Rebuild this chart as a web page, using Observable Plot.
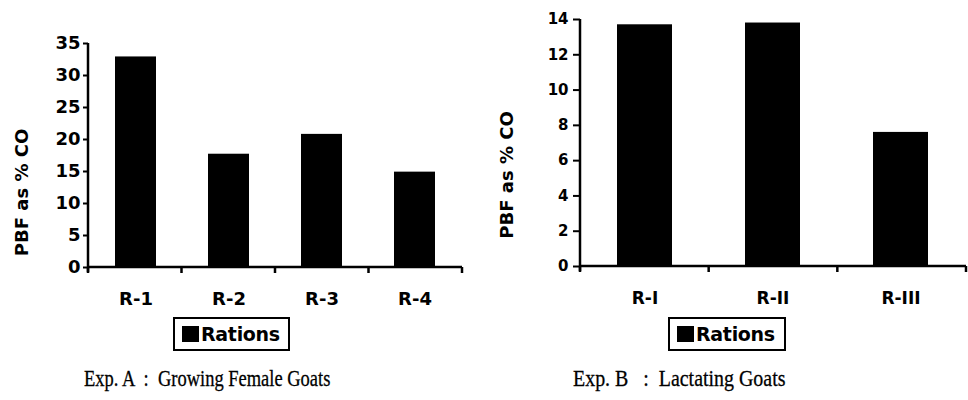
<!DOCTYPE html>
<html><head><meta charset="utf-8">
<script src="https://cdn.jsdelivr.net/npm/d3@7"></script>
<script src="https://cdn.jsdelivr.net/npm/@observablehq/plot@0.6"></script>
<style>
body{margin:0;background:#fff;}
#wrap{position:relative;width:968px;height:400px;overflow:hidden;background:#fff;}
.panel{position:absolute;top:0;}
.panel [aria-label^="y-axis"] path, .panel [aria-label^="y-axis"] line{stroke-width:2px;}
.panel [aria-label^="y-axis"] text, .panel [aria-label^="x-axis"] text{font-weight:bold;}
#pB [aria-label^="x-axis"] text{font-size:17px;}
.legend{position:absolute;border:2.5px solid #000;box-sizing:border-box;display:flex;align-items:center;
  font-family:"DejaVu Sans";font-weight:bold;font-size:19px;color:#000;letter-spacing:-0.3px;}
.legend .sw{display:inline-block;width:17px;height:16px;background:#000;margin:0 2px 0 7px;}
.caption{position:absolute;font-family:"Liberation Serif";font-size:24px;color:#000;white-space:pre;
  transform-origin:left top;line-height:24px;-webkit-text-stroke:0.3px #000;}
</style>
</head><body>
<div id="wrap">
  <div id="pA" class="panel" style="left:0px"></div>
  <div id="pB" class="panel" style="left:480px"></div>
  <div class="legend" style="left:173px;top:317px;width:117px;height:34px;"><span class="sw"></span><span id="legA"></span></div>
  <div class="legend" style="left:668px;top:317px;width:118px;height:34px;"><span class="sw"></span><span id="legB"></span></div>
  <div class="caption" id="capA" style="left:84px;top:366px;transform:scaleX(0.77);"></div>
  <div class="caption" id="capB" style="left:573px;top:366px;transform:scaleX(0.83);"></div>
</div>
<script>
// ---- data ----
const rationsA = ["R-1", "R-2", "R-3", "R-4"];
const pbfA = [32.9, 17.7, 20.8, 14.9];
const yTicksA = [0, 5, 10, 15, 20, 25, 30, 35];

const rationsB = ["R-I", "R-II", "R-III"];
const pbfB = [13.7, 13.8, 7.6];
const yTicksB = [0, 2, 4, 6, 8, 10, 12, 14];

const yLabel = "PBF as % CO";
const legendLabel = "Rations";
const captionA = "Exp. A  :  Growing Female Goats";
const captionB = "Exp. B   :  Lactating Goats";

function panel(cats, vals, ticks, opt) {
  const data = cats.map((c, i) => ({r: c, v: vals[i]}));
  const n = cats.length;
  const yMax = ticks[ticks.length - 1];
  const axisLines = (index, scales, values, dim) => {
    const g = d3.create("svg:g").attr("stroke", "#000").attr("fill", "none");
    const x0 = dim.marginLeft, x1 = dim.width - dim.marginRight;
    const yb = dim.height - dim.marginBottom, yt = dim.marginTop;
    g.append("line").attr("x1", x0).attr("x2", x0).attr("y1", yt).attr("y2", yb + 5).attr("stroke-width", 2.5);
    g.append("line").attr("x1", x0).attr("x2", x1).attr("y1", yb).attr("y2", yb).attr("stroke-width", 2.5);
    for (let i = 0; i <= n; i++) {
      const xi = x0 + i * (x1 - x0) / n;
      g.append("line").attr("x1", xi).attr("x2", xi).attr("y1", yb).attr("y2", yb + 6).attr("stroke-width", 2.5);
    }
    return g.node();
  };
  return Plot.plot({
    width: opt.width, height: opt.height,
    marginLeft: opt.ml, marginRight: opt.mr, marginTop: opt.mt, marginBottom: opt.mb,
    style: {background: "transparent", fontFamily: "DejaVu Sans", fontWeight: "bold", fontSize: opt.font + "px", color: "#000", overflow: "visible"},
    x: {domain: cats, paddingInner: opt.pad, paddingOuter: opt.pad / 2, label: null, tickSize: 0, tickPadding: 25},
    y: {domain: [0, yMax], ticks: ticks, label: null, tickSize: opt.tickSize, tickPadding: opt.tickPad},
    marks: [
      Plot.barY(data, {x: "r", y: "v", fill: "#000"}),
      Plot.text([yLabel], {frameAnchor: "left", textAnchor: "middle", lineAnchor: "middle", dx: opt.ldx, dy: opt.ldy, rotate: -90, fontSize: 18, fontWeight: "bold", fill: "#000"}),
      axisLines
    ]
  });
}

document.getElementById("pA").append(panel(rationsA, pbfA, yTicksA,
  {width: 475, height: 312, ml: 88, mr: 13, mt: 43, mb: 45, pad: 0.56, font: 18, tickSize: 5, tickPad: 3, ldx: -66, ldy: 37}));
document.getElementById("pB").append(panel(rationsB, pbfB, yTicksB,
  {width: 488, height: 312, ml: 100, mr: 2, mt: 19, mb: 46, pad: 0.57, font: 15, tickSize: 7, tickPad: 5, ldx: -73, ldy: 32}));

document.getElementById("legA").textContent = legendLabel;
document.getElementById("legB").textContent = legendLabel;
document.getElementById("capA").textContent = captionA;
document.getElementById("capB").textContent = captionB;
</script>
</body></html>
